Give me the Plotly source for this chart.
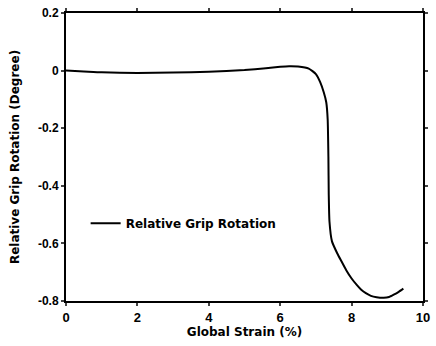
import plotly.graph_objects as go

strain = [0.0, 0.5, 1.0, 2.0, 3.0, 4.0, 5.0, 5.6, 6.0, 6.25, 6.5, 6.8, 7.0, 7.12, 7.22, 7.29, 7.33, 7.35, 7.36, 7.38, 7.45, 7.6, 7.72, 7.85, 8.0, 8.15, 8.27, 8.4, 8.54, 8.7, 8.9, 9.05, 9.18, 9.32, 9.45]
rotation = [0.0, -0.003, -0.006, -0.008, -0.007, -0.004, 0.002, 0.008, 0.013, 0.015, 0.014, 0.007, -0.012, -0.04, -0.075, -0.11, -0.17, -0.3, -0.43, -0.524, -0.593, -0.635, -0.663, -0.693, -0.722, -0.745, -0.761, -0.773, -0.782, -0.787, -0.789, -0.786, -0.778, -0.768, -0.757]

xticks = [0, 2, 4, 6, 8, 10]
yticks = [0.2, 0, -0.2, -0.4, -0.6, -0.8]
ytick_text = ["0.2", "0", "-0.2", "-0.4", "-0.6", "-0.8"]

tfont = "Liberation Sans"
lfont = "DejaVu Sans"

fig = go.Figure()
fig.add_trace(go.Scatter(x=strain, y=rotation, mode="lines",
                         line=dict(color="black", width=2, shape="spline", smoothing=0.5),
                         name="Relative Grip Rotation"))

fig.update_layout(
    width=436, height=346,
    margin=dict(l=66, r=6, t=12, b=45),
    paper_bgcolor="white", plot_bgcolor="white",
    showlegend=True,
    legend=dict(x=0.055, y=0.27, xanchor="left", yanchor="middle",
                bgcolor="rgba(0,0,0,0)", borderwidth=0,
                font=dict(family=lfont, size=12, color="black", weight="bold"),
                itemwidth=30),
    font=dict(family=lfont, color="black"),
)
fig.update_xaxes(range=[0, 10], tickvals=xticks, ticks="outside", ticklen=3, tickwidth=1.5,
                 showline=True, linecolor="black", linewidth=2, mirror="ticks",
                 showgrid=False, zeroline=False,
                 tickfont=dict(family=tfont, size=13, color="black", weight="bold"),
                 title=dict(text="Global Strain (%)", font=dict(family=lfont, size=12, weight="bold"), standoff=1))
fig.update_yaxes(range=[-0.8, 0.2], tickvals=yticks, ticktext=ytick_text, ticks="outside", ticklen=3, tickwidth=1.5,
                 showline=True, linecolor="black", linewidth=2, mirror="ticks",
                 showgrid=False, zeroline=False,
                 tickfont=dict(family=tfont, size=12, color="black", weight="bold"),
                 title=dict(text="Relative Grip Rotation (Degree)", font=dict(family=lfont, size=12, weight="bold"), standoff=16))

fig.write_html("out.html")
